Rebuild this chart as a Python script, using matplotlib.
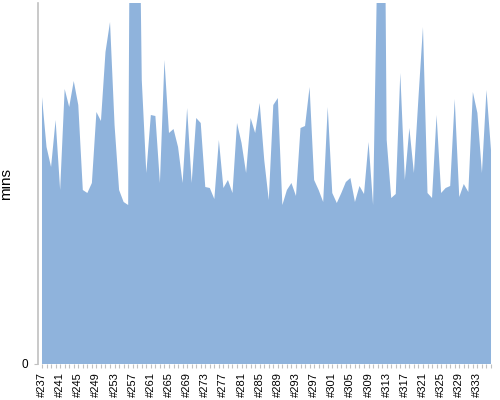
import matplotlib
matplotlib.use("Agg")
import matplotlib.pyplot as plt
from matplotlib.ticker import FixedLocator

builds = list(range(237, 337))
labels = [f"#{b}" for b in builds]
mins = [26.7, 21.7, 19.7, 24.4, 17.4, 27.5, 25.7, 28.3, 25.9, 17.4,
        17.1, 18.1, 25.2, 24.3, 31.2, 34.2, 23.9, 17.4, 16.2, 15.9,
        100.0, 65.0, 28.4, 19.1, 24.9, 24.8, 18.1, 30.4, 23.1, 23.5,
        21.7, 18.1, 25.6, 18.1, 24.6, 24.1, 17.7, 17.6, 16.5, 22.4,
        17.6, 18.4, 17.1, 24.1, 22.1, 19.1, 24.6, 23.1, 26.1, 20.4,
        16.4, 25.9, 26.6, 15.9, 17.4, 18.1, 16.8, 23.6, 23.8, 27.7,
        18.4, 17.4, 16.2, 25.7, 17.1, 16.1, 17.1, 18.2, 18.6, 16.2,
        17.8, 17.0, 22.2, 15.9, 42.0, 80.0, 22.4, 16.6, 17.0, 29.1,
        18.4, 23.6, 19.1, 26.6, 33.7, 17.1, 16.6, 24.9, 17.1, 17.6,
        17.8, 26.5, 16.7, 18.0, 17.2, 27.2, 25.1, 19.1, 27.4, 21.4]

plt.rcParams['font.family'] = ['Liberation Sans', 'DejaVu Sans']

fig = plt.figure(figsize=(5, 4), dpi=100)
W, H = 500, 400
left_px, right_px, top_px, bottom_px = 38, 493, 3, 364
ax = fig.add_axes([left_px / W, 1 - bottom_px / H,
                   (right_px - left_px) / W, (bottom_px - top_px) / H])

x = list(range(len(mins)))
ax.fill_between(x, 0, mins, color='#8FB3DC', linewidth=0)

ax.set_xlim(-0.88, 99.44)
ax.set_ylim(0, 36.1)

for s in ['top', 'right', 'bottom']:
    ax.spines[s].set_visible(False)
ax.spines['left'].set_color('#C0C0C0')
ax.spines['left'].set_linewidth(1.2)

ax.set_yticks([0])
ax.set_yticklabels(['0'], fontsize=8.5)
ax.tick_params(axis='y', length=3, color='#C0C0C0', pad=4)

ax.xaxis.set_major_locator(FixedLocator(x[::4]))
ax.set_xticklabels(labels[::4], rotation=90, fontsize=8, va='top')
ax.xaxis.set_minor_locator(FixedLocator(x))
ax.tick_params(axis='x', which='both', length=3, color='#C0C0C0', width=0.8, pad=3, direction='out')

ax.set_ylabel('mins', fontsize=11)
ax.yaxis.set_label_coords(-0.055, 0.5)

fig.savefig('out.png', dpi=100)
